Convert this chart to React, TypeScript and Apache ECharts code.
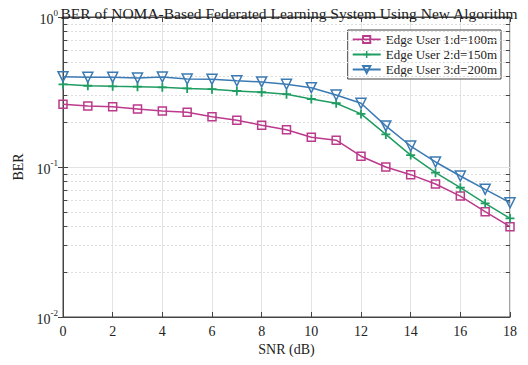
import React, { useEffect, useRef } from "react";
import * as echarts from "echarts";

const snr = [0, 1, 2, 3, 4, 5, 6, 7, 8, 9, 10, 11, 12, 13, 14, 15, 16, 17, 18];
const user1 = [0.262, 0.255, 0.252, 0.244, 0.236, 0.232, 0.216, 0.205, 0.19, 0.177, 0.158, 0.151, 0.118, 0.1, 0.0889, 0.077, 0.064, 0.0504, 0.04];
const user2 = [0.356, 0.348, 0.345, 0.343, 0.34, 0.334, 0.33, 0.321, 0.315, 0.306, 0.284, 0.266, 0.226, 0.165, 0.12, 0.0917, 0.0728, 0.0573, 0.0455];
const user3 = [0.4, 0.396, 0.396, 0.392, 0.398, 0.386, 0.384, 0.376, 0.369, 0.356, 0.338, 0.302, 0.266, 0.188, 0.138, 0.108, 0.0871, 0.071, 0.0578];
const seriesNames = ["Edge User 1:d=100m", "Edge User 2:d=150m", "Edge User 3:d=200m"];
const minorValues = [0.02, 0.03, 0.04, 0.05, 0.06, 0.07, 0.08, 0.09, 0.2, 0.3, 0.4, 0.5, 0.6, 0.7, 0.8, 0.9];

const colors = ["#BC3A8C", "#1F9D62", "#3B7AB3"];
const FONT = "'Liberation Serif', 'Times New Roman', 'DejaVu Serif', serif";

export default function App() {
  const ref = useRef<HTMLDivElement>(null);
  useEffect(() => {
    if (!ref.current) return;
    const chart = echarts.init(ref.current, null, { renderer: "svg" });
    const pairs = (arr: number[]) => arr.map((v, i) => [snr[i], v]);
    const tickLen = 0.17;
    const minorTickSegs: any[] = [];
    minorValues.forEach((v) => {
      minorTickSegs.push([{ coord: [0, v] }, { coord: [tickLen, v] }]);
      minorTickSegs.push([{ coord: [18 - tickLen, v] }, { coord: [18, v] }]);
    });
    const plus = "path://M4,0H6V4H10V6H6V10H4V6H0V4H4Z";
    const option: any = {
      animation: false,
      backgroundColor: "#fff",
      textStyle: { fontFamily: FONT },
      title: {
        text: "BER of NOMA-Based Federated Learning System Using New Algorithm",
        left: 284,
        textAlign: "center",
        top: 0,
        textStyle: { fontFamily: FONT, fontSize: 15.5, fontWeight: "normal", color: "#222" },
      },
      legend: {
        orient: "vertical",
        right: 27,
        top: 30,
        itemWidth: 28,
        itemHeight: 9,
        itemGap: 2,
        padding: [3, 4, 3, 4],
        borderColor: "#444",
        borderWidth: 1,
        backgroundColor: "#fff",
        textStyle: { fontFamily: FONT, fontSize: 13, color: "#222" },
        data: seriesNames,
      },
      grid: {
        left: 63,
        right: 18,
        top: 17,
        bottom: 48,
        show: true,
        borderColor: "#444",
        borderWidth: 1,
        backgroundColor: "#fff",
      },
      xAxis: [
        {
          type: "value",
          min: 0,
          max: 18,
          interval: 2,
          name: "SNR (dB)",
          nameLocation: "middle",
          nameGap: 22,
          nameTextStyle: { fontFamily: FONT, fontSize: 14, color: "#222" },
          axisLine: { show: true, lineStyle: { color: "#444" } },
          axisTick: { show: true, inside: true, length: 5, lineStyle: { color: "#444" } },
          axisLabel: { fontFamily: FONT, fontSize: 14, color: "#222", margin: 7 },
          splitLine: { show: true, lineStyle: { color: "#e3e3e3", width: 1 } },
        },
        {
          type: "value",
          position: "top",
          min: 0,
          max: 18,
          interval: 2,
          axisLine: { show: true, lineStyle: { color: "#444" } },
          axisTick: { show: true, inside: true, length: 5, lineStyle: { color: "#444" } },
          axisLabel: { show: false },
          splitLine: { show: false },
        },
      ],
      yAxis: [
        {
          type: "log",
          logBase: 10,
          min: 0.01,
          max: 1,
          name: "BER",
          nameLocation: "middle",
          nameGap: 31,
          nameTextStyle: { fontFamily: FONT, fontSize: 14, color: "#222" },
          axisLine: { show: true, lineStyle: { color: "#444" } },
          axisTick: { show: true, inside: true, length: 5, lineStyle: { color: "#444" } },
          axisLabel: {
            margin: 5,
            formatter: (v: number) => `{b|10}{e|${Math.round(Math.log10(v))}}`,
            rich: {
              b: { fontFamily: FONT, fontSize: 14, color: "#222", lineHeight: 18, verticalAlign: "bottom" },
              e: { fontFamily: FONT, fontSize: 9, color: "#222", lineHeight: 18, verticalAlign: "top", padding: [0, 0, 8, 0] },
            },
          },
          splitLine: { show: true, lineStyle: { color: "#e3e3e3", width: 1 } },
        },
        {
          type: "log",
          logBase: 10,
          min: 0.01,
          max: 1,
          position: "right",
          axisLine: { show: true, lineStyle: { color: "#444" } },
          axisTick: { show: true, inside: true, length: 5, lineStyle: { color: "#444" } },
          axisLabel: { show: false },
          splitLine: { show: false },
        },
      ],
      series: [
        {
          name: seriesNames[0],
          type: "line",
          data: pairs(user1),
          color: colors[0],
          symbol: "rect",
          symbolSize: 8,
          lineStyle: { color: colors[0], width: 1.5 },
          itemStyle: { color: "rgba(255,255,255,0)", borderColor: colors[0], borderWidth: 1.5 },
          z: 5,
          markLine: {
            silent: true,
            symbol: ["none", "none"],
            label: { show: false },
            animation: false,
            lineStyle: { color: "#dedede", type: [2, 2], width: 1 },
            data: minorValues.map((v) => ({ yAxis: v })),
          },
        },
        {
          name: seriesNames[1],
          type: "line",
          data: pairs(user2),
          color: colors[1],
          symbol: plus,
          symbolSize: 9,
          lineStyle: { color: colors[1], width: 1.5 },
          itemStyle: { color: colors[1] },
          z: 5,
          markLine: {
            silent: true,
            symbol: ["none", "none"],
            label: { show: false },
            animation: false,
            lineStyle: { color: "#444", type: "solid", width: 1 },
            data: minorTickSegs,
          },
        },
        {
          name: seriesNames[2],
          type: "line",
          data: pairs(user3),
          color: colors[2],
          symbol: "triangle",
          symbolRotate: 180,
          symbolSize: 10,
          lineStyle: { color: colors[2], width: 1.5 },
          itemStyle: { color: "rgba(255,255,255,0)", borderColor: colors[2], borderWidth: 1.5 },
          z: 5,
        },
      ],
    };
    chart.setOption(option);
    return () => chart.dispose();
  }, []);
  return <div ref={ref} style={{ position: "absolute", left: 0, top: 0, width: 528, height: 365 }} />;
}
